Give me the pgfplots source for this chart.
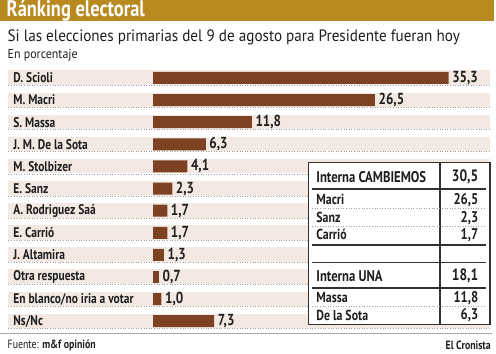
\documentclass[border=0pt]{standalone}
\usepackage{pgfplots}
\pgfplotsset{compat=1.18}
\usepackage{fontspec}
\setmainfont{PT Sans}[FakeStretch=0.82]
\newfontfamily\regf{PT Sans}[FakeStretch=0.92]
\definecolor{gold}{RGB}{184,137,30}
\definecolor{barc}{RGB}{125,66,36}
\definecolor{band}{RGB}{243,233,226}
\definecolor{dotg}{RGB}{160,160,160}
\definecolor{txt}{RGB}{30,30,30}
\definecolor{tabl}{RGB}{50,50,50}
\begin{document}
\begin{tikzpicture}[x=1pt,y=1pt]
\path (0,0) rectangle (496,-354);
\fill[gold] (0,0) rectangle (494,-21);
\node[anchor=west, text=white, font=\fontsize{22.5}{24}\selectfont\bfseries, inner sep=0] at (6,-10.5) {Ránking electoral};
\node[anchor=west, text=txt, font=\fontsize{16.5}{18}\selectfont\regf, inner sep=0] at (7,-37) {Si las elecciones primarias del 9 de agosto para Presidente fueran hoy};
\node[anchor=west, text=txt, font=\fontsize{13}{14}\selectfont\regf, inner sep=0] at (7,-55) {En porcentaje};
\foreach \i in {0,...,11}{
  \pgfmathsetmacro\yc{78+22.14*\i}
  \fill[band] (8,-\yc+7.5) rectangle (490,-\yc-7);
  \draw[dotg, dotted, line width=0.6] (8,-\yc-7.5) -- (490,-\yc-7.5);
}
\begin{axis}[at={(152.7pt,-66.93pt)}, anchor=north west, scale only axis,
  width=335.2pt, height=265.7pt, xmin=0, xmax=40, ymin=-0.5, ymax=11.5,
  y dir=reverse, axis line style={draw=none}, tick style={draw=none},
  xtick=\empty, ytick={0,...,11},
  yticklabels={D. Scioli, M. Macri, S. Massa, J. M. De la Sota, M. Stolbizer, E. Sanz, A. Rodriguez Saá, E. Carrió, J. Altamira, Otra respuesta, En blanco/no iria a votar, Ns/Nc},
  yticklabel style={anchor=west, inner sep=0pt, xshift=-135.7pt, font=\fontsize{14}{16}\selectfont\bfseries, text=txt},
  xbar, bar width=12pt, bar shift=0pt, clip=false,
  point meta=x,
  nodes near coords={\pgfmathprintnumber[fixed,fixed zerofill,precision=1,use comma,assume math mode=true]{\pgfplotspointmeta}},
  nodes near coords style={anchor=west, inner sep=0pt, xshift=3.5pt, font=\fontsize{16}{18}\selectfont\bfseries, text=txt},
]
\addplot[fill=barc, draw=none] coordinates {
(35.3,0) (26.5,1) (11.8,2) (6.3,3) (4.1,4) (2.3,5) (1.7,6) (1.7,7) (1.3,8) (0.7,9) (1.0,10) (7.3,11)};
\end{axis}
% table
\fill[white] (308.3,-162.7) rectangle (490,-325);
\draw[tabl, line width=1.2] (308.3,-162.7) rectangle (490,-325);
\draw[tabl, line width=1.2] (440,-162.7) -- (440,-325);
\foreach \y in {189.3,245,262.7,288.3}{
  \draw[tabl, line width=1.6] (312,-\y) -- (486,-\y);
}
\foreach \y in {208.5,226.5,306.7}{
  \draw[dotg, dotted, line width=0.6] (312,-\y) -- (486,-\y);
}
\begin{scope}[every node/.style={inner sep=0pt, text=txt}]
\node[anchor=west, font=\fontsize{15.5}{17}\selectfont\bfseries] at (316,-177.3) {Interna CAMBIEMOS};
\node[anchor=east, font=\fontsize{16.5}{18}\selectfont\bfseries] at (478.5,-177.3) {30,5};
\node[anchor=west, font=\fontsize{14.5}{16}\selectfont\bfseries] at (316,-200) {Macri};
\node[anchor=east, font=\fontsize{15.5}{17}\selectfont\bfseries] at (478.5,-200) {26,5};
\node[anchor=west, font=\fontsize{14.5}{16}\selectfont\bfseries] at (316,-218) {Sanz};
\node[anchor=east, font=\fontsize{15.5}{17}\selectfont\bfseries] at (478.5,-218) {2,3};
\node[anchor=west, font=\fontsize{14.5}{16}\selectfont\bfseries] at (316,-235) {Carrió};
\node[anchor=east, font=\fontsize{15.5}{17}\selectfont\bfseries] at (478.5,-235) {1,7};
\node[anchor=west, font=\fontsize{15.5}{17}\selectfont\bfseries] at (316,-276) {Interna UNA};
\node[anchor=east, font=\fontsize{16.5}{18}\selectfont\bfseries] at (478.5,-276) {18,1};
\node[anchor=west, font=\fontsize{14.5}{16}\selectfont\bfseries] at (316,-298) {Massa};
\node[anchor=east, font=\fontsize{15.5}{17}\selectfont\bfseries] at (478.5,-298) {11,8};
\node[anchor=west, font=\fontsize{14.5}{16}\selectfont\bfseries] at (316,-315.7) {De la Sota};
\node[anchor=east, font=\fontsize{15.5}{17}\selectfont\bfseries] at (478.5,-315.7) {6,3};
\end{scope}
% footer
\draw[gray!70, line width=1] (0,-334) -- (492,-334);
\node[anchor=west, inner sep=0pt, text=txt, font=\fontsize{12}{14}\selectfont] at (7,-346) {Fuente: \textbf{m\&f opinión}};
\node[anchor=east, inner sep=0pt, text=txt, font=\fontsize{12}{14}\selectfont\bfseries] at (491,-346) {El Cronista};
\end{tikzpicture}
\end{document}
